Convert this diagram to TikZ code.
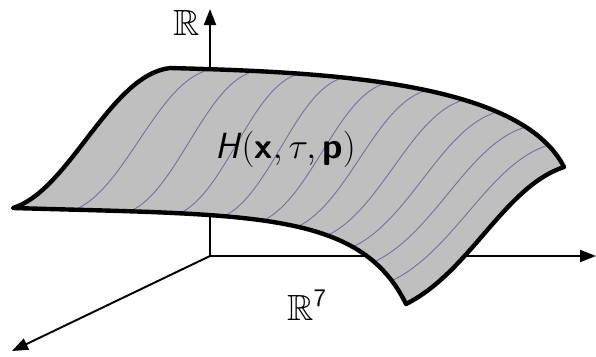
\documentclass[tikz,border=0pt]{standalone}
\usepackage{amsmath,amssymb}
\usetikzlibrary{arrows.meta,calc}
\tikzset{
  axis/.style={-{Triangle[length=0.32cm,width=0.24cm]},line width=1.1pt},
  surf/.style={fill=black!25,draw=black,line width=2.5pt,line join=round},
  strie/.style={draw={rgb,255:red,112;green,112;blue,160},line width=0.5pt},
  lbl/.style={font=\huge,inner sep=0pt}
}

\begin{document}
\begin{tikzpicture}[x=0.02cm,y=-0.02cm]
  \useasboundingbox (0,0) rectangle (596,356);
  % axes
  \coordinate (O) at (210,256);
  \coordinate (ztip) at (210,9);
  \coordinate (xtip) at (596,256);
  \coordinate (ytip) at (12,351);
  \draw[axis] (O)--(ztip);
  \draw[axis] (O)--(xtip);
  \draw[axis] (O)--(ytip);

  % corners and control points of the sheet
  \coordinate (A) at (170,68);   \coordinate (B) at (564,167);
  \coordinate (C) at (406,304);  \coordinate (D) at (13,208);
  \coordinate (l1) at (70,190);  \coordinate (l2) at (110,75);
  \coordinate (b1) at (250,215); \coordinate (b2) at (360,210);
  \coordinate (r1) at (470,272); \coordinate (r2) at (504,187);
  \coordinate (t1) at (320,72);  \coordinate (t2) at (520,80);

  \fill[surf,draw=none] (D) .. controls (b1) and (b2) .. (C)
    .. controls (r1) and (r2) .. (B) .. controls (t2) and (t1) .. (A)
    .. controls (l2) and (l1) .. (D) -- cycle;

  % lines across the sheet
  \foreach \u in {1,...,10}{
    \pgfmathsetmacro{\uu}{\u/11}
    \path (D) .. controls (b1) and (b2) .. (C) coordinate[pos=\uu] (bu);
    \path (A) .. controls (t1) and (t2) .. (B) coordinate[pos=\uu] (tu);
    \coordinate (m0) at ($(D)!\uu!(C)$);
    \coordinate (m1) at ($(l1)!\uu!(r1)$);
    \coordinate (m2) at ($(l2)!\uu!(r2)$);
    \coordinate (m3) at ($(A)!\uu!(B)$);
    \draw[strie] (bu)
      .. controls ($(bu)+(m1)-(m0)+1/3*(tu)-1/3*(bu)-1/3*(m3)+1/3*(m0)$)
      and ($(tu)+(m2)-(m3)+1/3*(bu)-1/3*(tu)-1/3*(m0)+1/3*(m3)$) .. (tu);
  }

  \draw[surf,fill=none] (D) .. controls (b1) and (b2) .. (C)
    .. controls (r1) and (r2) .. (B) .. controls (t2) and (t1) .. (A)
    .. controls (l2) and (l1) .. (D) -- cycle;

  % labels
  \node[lbl,anchor=base west] (zlab) at (173,35) {$\mathbb{R}$};
  \node[lbl,anchor=base west] (xylab) at (287,320) {$\mathbb{R}^{\textsf{7}}$};
  \node[lbl,anchor=base west] (hlab) at (215,158)
    {$\textsf{\textit{H}}(\textsf{\textbf{x}},\tau,\textsf{\textbf{p}})$};
\end{tikzpicture}
\end{document}
